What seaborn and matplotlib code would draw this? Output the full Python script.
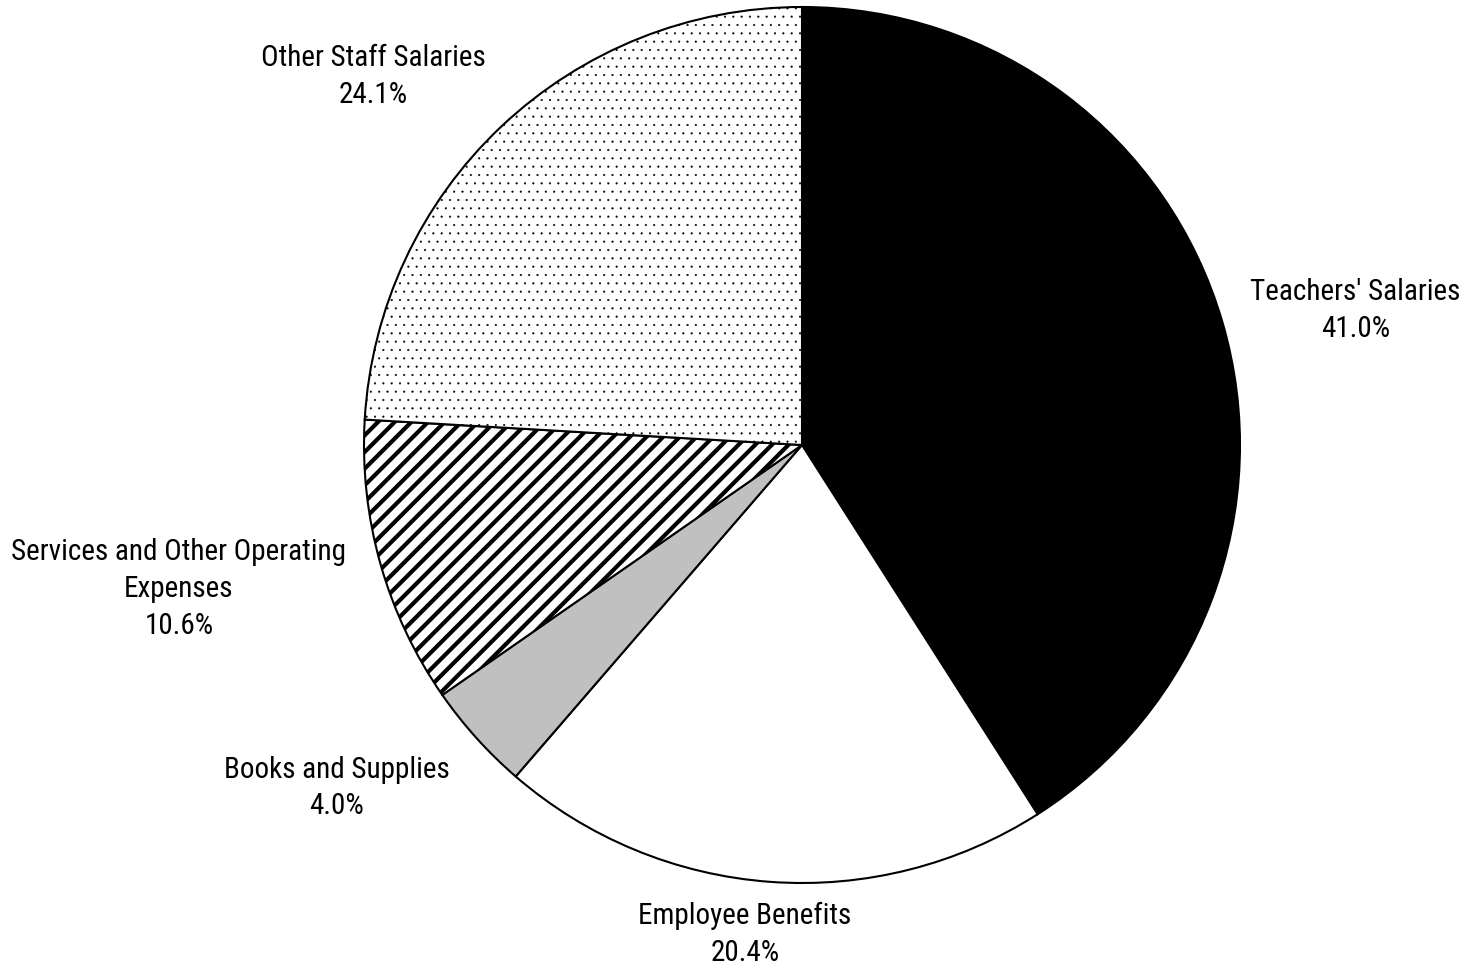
import numpy as np
import matplotlib
matplotlib.use('Agg')
import matplotlib.pyplot as plt
from matplotlib import font_manager
import seaborn as sns

# data
categories = ["Teachers' Salaries", 'Employee Benefits', 'Books and Supplies',
              'Services and Other Operating\nExpenses', 'Other Staff Salaries']
shares = [41.0, 20.4, 4.0, 10.6, 24.1]
pct_labels = ['41.0%', '20.4%', '4.0%', '10.6%', '24.1%']

# style per slice
fills = ['black', 'white', '#c0c0c0', 'white', 'white']
hatches = [None, None, None, '//', '..']
label_dist = [1.30, 1.125, 1.32, 1.46, 1.29]
label_turn = [-2.6, -2.5, -5.6, -2.7, 6.0]

sns.set_theme(style='white')
plt.rcParams['font.family'] = ['Liberation Sans', 'DejaVu Sans']
plt.rcParams['hatch.linewidth'] = 3.0

# look for a narrow face, like the condensed type of the original
narrow = None
for key in ['LiberationSansNarrow-Regular', 'RobotoCondensed-Regular', 'DejaVuSansCondensed.ttf']:
    for f in font_manager.fontManager.ttflist:
        if key in f.fname:
            narrow = f.fname
            break
    if narrow:
        break
fp = font_manager.FontProperties(fname=narrow) if narrow else font_manager.FontProperties(family='Liberation Sans')

W, H = 1467, 971
fig = plt.figure(figsize=(W / 100, H / 100), dpi=100)
ax = fig.add_axes([0, 0, 1, 1])

cx, cy, R = 802, H - 445, 438
wedges, _ = ax.pie(shares, colors=fills, startangle=90, counterclock=False,
                   center=(cx, cy), radius=R, frame=True,
                   wedgeprops=dict(edgecolor='black', linewidth=1.5))
ax.set_xlim(0, W)
ax.set_ylim(0, H)
ax.axis('off')

for w, h in zip(wedges, hatches):
    if h:
        w.set_hatch(h)
        if '.' in h and hasattr(w, 'set_hatch_linewidth'):
            w.set_hatch_linewidth(0.3)

size = 21 if narrow else 19
for w, cat, pct, d, turn in zip(wedges, categories, pct_labels, label_dist, label_turn):
    ang = np.deg2rad((w.theta1 + w.theta2) / 2 + turn)
    ax.text(cx + R * d * np.cos(ang), cy + R * d * np.sin(ang), f'{cat}\n{pct}',
            ha='center', va='center', color='black', linespacing=1.4,
            fontproperties=fp, fontsize=size)

fig.savefig('out.png', dpi=100, facecolor='white')
